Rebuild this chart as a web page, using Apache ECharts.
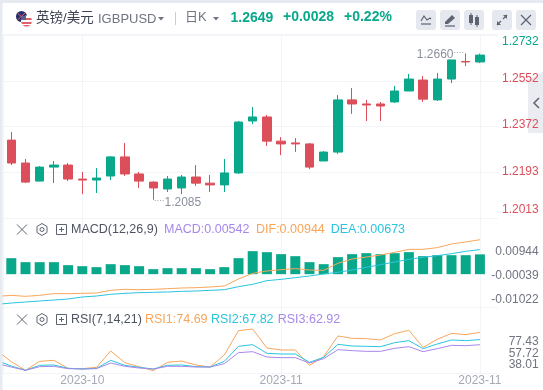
<!DOCTYPE html>
<html>
<head>
<meta charset="utf-8">
<style>html,body{margin:0;padding:0;background:#fff}#chart{width:543px;height:390px}</style>
<script src="https://cdn.jsdelivr.net/npm/echarts@6/dist/echarts.min.js"></script>
</head>
<body>
<div id="chart"></div>
<script>
// first entry is the bar scrolled off the left edge, only the indicator lines show it
var categories = ['', '', '', '', '', '', '2023-10', '', '', '', '', '', '', '', '', '', '', '', '', '', '2023-11', '', '', '', '', '', '', '', '', '', '', '', '', '', '2023-11'];
// open, close, low, high
var candleValues = [
    ['-', '-', '-', '-'],
    [1.2319, 1.2229, 1.2221, 1.2351], [1.2229, 1.2154, 1.2150, 1.2245], [1.2158, 1.2213, 1.2158, 1.2217],
    [1.2213, 1.2221, 1.2150, 1.2237], [1.2221, 1.2166, 1.2158, 1.2229], [1.2166, 1.2162, 1.2107, 1.2194],
    [1.2162, 1.2170, 1.2111, 1.2209], [1.2178, 1.2253, 1.2162, 1.2256], [1.2253, 1.2186, 1.2178, 1.2308],
    [1.2186, 1.2158, 1.2131, 1.2194], [1.2154, 1.2131, 1.2085, 1.2158], [1.2127, 1.2166, 1.2115, 1.2178],
    [1.2131, 1.2174, 1.2107, 1.2182], [1.2174, 1.2150, 1.2139, 1.2221], [1.2150, 1.2143, 1.2115, 1.2182],
    [1.2143, 1.2190, 1.2115, 1.2245], [1.2190, 1.2390, 1.2186, 1.2394], [1.2394, 1.2410, 1.2382, 1.2449],
    [1.2410, 1.2315, 1.2296, 1.2418], [1.2315, 1.2304, 1.2260, 1.2331], [1.2308, 1.2304, 1.2272, 1.2327],
    [1.2304, 1.2213, 1.2205, 1.2308], [1.2237, 1.2272, 1.2237, 1.2276], [1.2272, 1.2477, 1.2264, 1.2496],
    [1.2477, 1.2461, 1.2422, 1.2524], [1.2461, 1.2457, 1.2394, 1.2477], [1.2461, 1.2453, 1.2394, 1.2469],
    [1.2469, 1.2512, 1.2465, 1.2532], [1.2512, 1.2559, 1.2512, 1.2579], [1.2555, 1.2480, 1.2469, 1.2571],
    [1.2477, 1.2559, 1.2473, 1.2583], [1.2559, 1.2634, 1.2543, 1.2634], [1.2628, 1.2626, 1.2610, 1.2660],
    [1.2626, 1.2653, 1.2622, 1.2659]
];
var macdBars = ['-', .00438, .00329, .00329, .00329, .00247, .00219, .00192, .00274, .00247, .00219, .00137, .00164, .00164, .00164, .00137, .00192, .00438, .00630, .00603, .00548, .00493, .00329, .00274, .00466, .00548, .00575, .00548, .00575, .00603, .00493, .00520, .00520, .00520, .00542];
var difValues = [-.00607, -.00580, -.00607, -.00580, -.00534, -.00534, -.00525, -.00516, -.00443, -.00415, -.00425, -.00415, -.00397, -.00379, -.00370, -.00351, -.00324, -.00132, .00023, .00087, .00123, .00151, .00114, .00105, .00297, .00415, .00470, .00525, .00598, .00680, .00680, .00726, .00826, .00881, .00944];
var deaValues = [-.00826, -.00790, -.00762, -.00735, -.00708, -.00680, -.00625, -.00598, -.00552, -.00525, -.00507, -.00498, -.00488, -.00470, -.00461, -.00443, -.00425, -.00342, -.00278, -.00178, -.00142, -.00096, -.00050, .00005, .00050, .00114, .00187, .00260, .00333, .00406, .00461, .00507, .00561, .00625, .00673];
var rsi1Values = [57.27, 46.82, 38.59, 47.14, 48.09, 40.49, 40.17, 41.44, 56.96, 45.87, 42.07, 38.27, 46.19, 47.45, 43.65, 41.75, 53.15, 76.27, 77.86, 59.81, 57.91, 57.91, 43.34, 51.57, 71.21, 68.99, 68.67, 67.41, 73.42, 76.59, 60.44, 68.04, 73.74, 72.47, 74.69];
var rsi2Values = [47.77, 42.70, 38.59, 43.34, 43.65, 40.49, 39.85, 40.49, 48.09, 43.34, 41.44, 39.85, 43.34, 43.65, 42.07, 41.75, 47.14, 61.39, 62.97, 54.74, 54.10, 54.10, 46.19, 50.94, 63.29, 61.71, 61.39, 61.07, 64.87, 66.77, 59.17, 63.61, 67.41, 66.77, 67.82];
var rsi3Values = [44.92, 41.75, 38.59, 42.07, 42.39, 40.17, 39.85, 40.17, 45.55, 42.39, 40.80, 39.85, 42.39, 42.39, 41.75, 41.75, 44.92, 55.37, 56.32, 51.25, 50.62, 50.62, 45.55, 49.67, 58.22, 57.27, 56.64, 56.64, 59.49, 61.07, 56.32, 59.17, 62.34, 62.02, 62.92];
var priceTicks = ['1.2013', '1.2193', '1.2372', '1.2552', '1.2732'];
var priceTickRows = [0.19, 1.02, 2.03, 3.04, 3.85];
var macdTicks = [-0.01022, -0.00039, 0.00944];
var rsiTicks = [38.01, 77.43];
var rsiMidTick = [57.72];

var GREEN = '#0aa88b', RED = '#dc4f5a', ORANGE = '#f8a65c', CYAN = '#2bc4dd', PURPLE = '#a788ea';
var GRIDLINE = '#f3f4f8', FONT = '"Liberation Sans", "Noto Sans CJK SC", sans-serif', ICON = '#5d6472';

var panes = [{top: 35, height: 183}, {top: 218, height: 89}, {top: 307, height: 66}];

function labelOnly() {
    return function (idx, value) { return value !== ''; };
}

var grids = [], xAxes = [], yAxes = [];
panes.forEach(function (p, i) {
    // frame grid: reaches the right axis line, carries lines and tick labels
    grids.push({left: 3, right: 45.3, top: p.top, height: p.height, outerBoundsMode: 'none'});
    xAxes.push({
        type: 'value', gridIndex: i, min: 0, max: 1, axisLabel: {show: false}, axisTick: {show: false},
        splitLine: {show: false}, axisLine: {show: true, onZero: false, lineStyle: {color: GRIDLINE}}
    });
});
panes.forEach(function (p, i) {
    // data grid: 35 bands, 14.2px each, the first one mostly off canvas
    grids.push({left: -10, width: 497, top: p.top, height: p.height, outerBoundsMode: 'none'});
    xAxes.push({
        type: 'category', gridIndex: i + 3, data: categories, boundaryGap: true, position: 'bottom',
        axisLine: {show: false}, axisTick: {show: false},
        splitLine: {show: true, alignWithLabel: true, interval: labelOnly(), lineStyle: {color: GRIDLINE}},
        axisLabel: i === 2 ? {show: true, interval: labelOnly(), margin: 2, color: '#a5a9b5', fontSize: 12, fontFamily: FONT, hideOverlap: false} : {show: false}
    });
});

var sideLabel = {inside: false, margin: 41, align: 'right', fontSize: 12, fontFamily: FONT, color: '#6f7480', showMinLabel: true, showMaxLabel: true, hideOverlap: false};
yAxes.push({
    type: 'value', gridIndex: 0, position: 'right', min: 0, max: 4, interval: 1,
    axisLine: {show: true, lineStyle: {color: GRIDLINE}}, axisTick: {show: false},
    splitLine: {show: true, lineStyle: {color: GRIDLINE}},
    axisLabel: Object.assign({}, sideLabel, {
        customValues: priceTickRows,
        formatter: function (v) { return priceTicks[priceTickRows.indexOf(v)]; },
        color: function (v) { return v > 3.5 ? GREEN : RED; }
    })
});
yAxes.push({
    type: 'value', gridIndex: 1, position: 'right', min: -0.01332, max: 0.02344,
    axisLine: {show: true, lineStyle: {color: GRIDLINE}}, axisTick: {show: false}, splitLine: {show: false},
    axisLabel: Object.assign({}, sideLabel, {customValues: macdTicks, formatter: function (v) { return v.toFixed(5); }})
});
yAxes.push({
    type: 'value', gridIndex: 2, position: 'right', min: 24.5, max: 136.1,
    axisLine: {show: true, lineStyle: {color: GRIDLINE}}, axisTick: {show: false}, splitLine: {show: false},
    axisLabel: Object.assign({}, sideLabel, {customValues: rsiTicks, formatter: function (v) { return v.toFixed(2); }})
});
// the drawn marks use their own scale, the site's labels do not line up with it
[[1.2013, 1.2732], [-0.00899, 0.01538], [36.05, 98.76]].forEach(function (r, i) {
    yAxes.push({type: 'value', gridIndex: i + 3, min: r[0], max: r[1], show: false, splitLine: {show: false}});
});
// overlapping labels get dropped on one axis, so the middle RSI tick has its own
yAxes.push({
    type: 'value', gridIndex: 2, position: 'right', min: 24.5, max: 136.1,
    axisLine: {show: false}, axisTick: {show: false}, splitLine: {show: false},
    axisLabel: Object.assign({}, sideLabel, {customValues: rsiMidTick, formatter: function (v) { return v.toFixed(2); }})
});

function lineSeries(name, values, color, pane) {
    return {
        name: name, type: 'line', xAxisIndex: pane, yAxisIndex: pane, data: values, symbol: 'none',
        lineStyle: {width: 1, color: color}, itemStyle: {color: color}, z: 3
    };
}

var extremeRich = {
    t: {color: '#8a8f9c', fontSize: 12, fontFamily: FONT},
    d: {color: '#8a8f9c', fontSize: 8, fontFamily: FONT, verticalAlign: 'top', lineHeight: 12}
};

var series = [
    {
        name: 'K', type: 'candlestick', xAxisIndex: 3, yAxisIndex: 3, data: candleValues, barWidth: 9,
        itemStyle: {color: GREEN, color0: RED, borderColor: GREEN, borderColor0: RED, borderWidth: 1},
        markPoint: {
            symbol: 'circle', symbolSize: 1, itemStyle: {color: 'rgba(0,0,0,0)'}, animation: false,
            data: [
                {coord: [33, 1.2660], label: {show: true, position: 'left', distance: 0, offset: [-1, 1], formatter: '{t|1.2660}{d|····}', rich: extremeRich}},
                {coord: [11, 1.2085], label: {show: true, position: 'right', distance: 0, offset: [0, 3], formatter: '{d|····}{t|1.2085}', rich: extremeRich}}
            ]
        }
    },
    {name: 'MACD', type: 'bar', xAxisIndex: 4, yAxisIndex: 4, data: macdBars, barWidth: 10, itemStyle: {color: GREEN}},
    lineSeries('DIF', difValues, ORANGE, 4),
    lineSeries('DEA', deaValues, CYAN, 4),
    lineSeries('RSI1', rsi1Values, ORANGE, 5),
    lineSeries('RSI2', rsi2Values, CYAN, 5),
    lineSeries('RSI3', rsi3Values, PURPLE, 5)
];

// header, buttons and pane captions
function txt(x, y, text, color, size, bold, align) {
    return {
        type: 'text', z: 20,
        style: {x: x, y: y, text: text, fill: color, font: (bold ? 'bold ' : '') + size + 'px ' + FONT, verticalAlign: 'middle', align: align || 'left'}
    };
}
function seg(x1, y1, x2, y2, color, w) {
    return {type: 'line', z: 20, shape: {x1: x1, y1: y1, x2: x2, y2: y2}, style: {stroke: color, lineWidth: w || 1}};
}
function poly(points, color) {
    return {type: 'polygon', z: 20, shape: {points: points}, style: {fill: color}};
}
function polyl(points, color, w) {
    return {type: 'polyline', z: 20, shape: {points: points}, style: {stroke: color, fill: null, lineWidth: w || 1}};
}
function button(x) {
    return {type: 'rect', z: 19, shape: {x: x, y: 10, width: 20, height: 20, r: 3}, style: {fill: '#e6e8ef'}};
}
function paneTools(y, name) {
    return [
        seg(17, y - 5, 27, y + 5, ICON), seg(27, y - 5, 17, y + 5, ICON),
        {type: 'polygon', z: 20, shape: {points: [[42, y - 6], [47, y - 3], [47, y + 3], [42, y + 6], [37, y + 3], [37, y - 3]]}, style: {stroke: ICON, fill: null, lineWidth: 1}},
        {type: 'circle', z: 20, shape: {cx: 42, cy: y, r: 2}, style: {stroke: ICON, fill: null, lineWidth: 1}},
        {type: 'rect', z: 20, shape: {x: 56.5, y: y - 5, width: 10, height: 10}, style: {stroke: ICON, fill: null, lineWidth: 1}},
        seg(59, y, 64, y, ICON), seg(61.5, y - 2.5, 61.5, y + 2.5, ICON),
        txt(71, y, name, '#4d5361', 12.5)
    ];
}

var usFlag = new echarts.graphic.LinearGradient(0, 0, 0, 1, [
    {offset: 0, color: '#ffffff'}, {offset: .25, color: '#ffffff'}, {offset: .25, color: '#e2606a'}, {offset: .45, color: '#e2606a'},
    {offset: .45, color: '#ffffff'}, {offset: .6, color: '#ffffff'}, {offset: .6, color: '#e2606a'}, {offset: .8, color: '#e2606a'},
    {offset: .8, color: '#ffffff'}, {offset: .9, color: '#ffffff'}, {offset: .9, color: '#e2606a'}, {offset: 1, color: '#e2606a'}
]);

var sideTab = poly([[528, 80], [543, 72], [543, 133], [528, 133]], '#ebebf2');
sideTab.z = -1;

var graphics = [
    // page behind the panel
    {type: 'rect', z: 30, shape: {x: 0, y: 0, width: 543, height: 3}, style: {fill: '#e6eaf1'}},
    {type: 'rect', z: 30, shape: {x: 0, y: 0, width: 2.5, height: 390}, style: {fill: '#e6eaf1'}},
    seg(3, 34.5, 497, 34.5, GRIDLINE),
    // flags
    {type: 'circle', z: 20, shape: {cx: 21.5, cy: 16.5, r: 5.5}, style: {fill: '#27306e'}},
    seg(17.5, 13, 25, 20, '#d9626c'), seg(25, 13, 17.5, 20, '#d9626c'),
    {type: 'circle', z: 21, shape: {cx: 26.5, cy: 21, r: 5.5}, style: {fill: usFlag}},
    {type: 'rect', z: 22, shape: {x: 22, y: 16, width: 4, height: 4}, style: {fill: '#58608f'}},
    txt(36, 18, '英镑/美元', '#3c4250', 13.5),
    txt(98, 19, 'IGBPUSD', '#6f7480', 13),
    poly([[158, 17], [164, 17], [161, 20.5]], '#6f7480'),
    seg(175.5, 12, 175.5, 25, '#c9ccd4'),
    txt(185, 17, '日K', '#6f7480', 13),
    poly([[213, 17], [219, 17], [216, 20.5]], '#6f7480'),
    txt(230.5, 18, '1.2649', GREEN, 14, true),
    txt(283, 17, '+0.0028', GREEN, 14, true),
    txt(344, 17, '+0.22%', GREEN, 14, true),
    button(416), button(440), button(464), button(492), button(516),
    // indicator button
    polyl([[421, 21], [424, 16], [427, 20], [430, 18], [431, 19]], ICON, 1.2), seg(421, 24, 431, 24, ICON, 1.2),
    // pencil
    poly([[445, 22], [452, 15], [455, 18], [448, 24], [445, 24]], ICON), seg(445, 26, 455, 26, ICON, 1.2),
    // candles
    {type: 'rect', z: 20, shape: {x: 469, y: 15, width: 4, height: 8}, style: {fill: ICON}}, seg(471, 13, 471, 25, ICON),
    {type: 'rect', z: 20, shape: {x: 475, y: 17, width: 4, height: 8}, style: {fill: ICON}}, seg(477, 15, 477, 27, ICON),
    // expand
    seg(497, 25, 501, 21, ICON, 1.2), poly([[497, 25], [497, 21], [501, 25]], ICON),
    seg(503, 19, 507, 15, ICON, 1.2), poly([[507, 15], [503, 15], [507, 19]], ICON),
    // close
    seg(521, 15, 531, 25, ICON, 1.2), seg(531, 15, 521, 25, ICON, 1.2),
    // side tab
    sideTab,
    polyl([[539, 98], [534, 103], [539, 108]], '#5d6472', 1.5)
];
graphics = graphics
    .concat(paneTools(229.5, 'MACD(12,26,9)'))
    .concat([
        txt(164, 229.5, 'MACD:0.00542', PURPLE, 12.5),
        txt(256, 229.5, 'DIF:0.00944', ORANGE, 12.5),
        txt(330.7, 229.5, 'DEA:0.00673', CYAN, 12.5)
    ])
    .concat(paneTools(319.5, 'RSI(7,14,21)'))
    .concat([
        txt(145, 319.5, 'RSI1:74.69', ORANGE, 12.5),
        txt(211, 319.5, 'RSI2:67.82', CYAN, 12.5),
        txt(277.7, 319.5, 'RSI3:62.92', PURPLE, 12.5)
    ]);

var chart = echarts.init(document.getElementById('chart'));
chart.setOption({
    animation: false,
    backgroundColor: '#fff',
    grid: grids,
    xAxis: xAxes,
    yAxis: yAxes,
    series: series,
    graphic: {elements: graphics}
});
</script>
</body>
</html>
